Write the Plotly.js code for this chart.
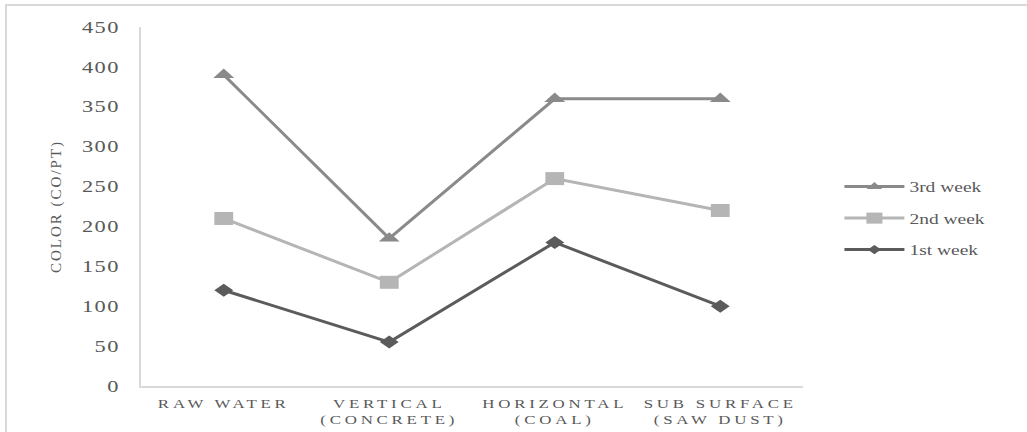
<!DOCTYPE html>
<html>
<head>
<meta charset="utf-8">
<script src="https://cdn.plot.ly/plotly-3.0.1.min.js"></script>
<style>
  html, body { margin: 0; padding: 0; background: #fff; }
  #wrap { position: relative; width: 1027px; height: 432px; }
  #chart { position: absolute; left: 0; top: 0; width: 1027px; height: 432px; }
  #frame {
    position: absolute; left: 5px; top: 4px; right: -4px; bottom: -4px;
    border-left: 2px solid #d9d9d9; border-top: 2px solid #d9d9d9;
    pointer-events: none;
  }
  /* wide, spaced label lettering */
  #chart g.xtick, #chart g.ytick { transform-box: fill-box; }
  #chart g.xtick { transform-origin: center; transform: scaleX(1.35); }
  #chart g.xtick text { letter-spacing: 2.8px; }
  #chart g.ytick { transform-origin: right center; transform: scaleX(1.4); }
  #chart g.ytick text { letter-spacing: 1px; }
  #chart text.legendtext { transform-box: fill-box; transform-origin: left center; transform: scaleX(1.3); }
  #chart .legend .scrollbox { clip-path: none; }
  #chart .g-ytitle text { letter-spacing: 2px; }
</style>
</head>
<body>
<div id="wrap">
  <div id="chart"></div>
  <div id="frame"></div>
</div>
<script>
// Filter types sampled
const categories = ["RAW WATER", "VERTICAL<br>(CONCRETE)", "HORIZONTAL<br>(COAL)", "SUB SURFACE<br>(SAW DUST)"];

// Colour readings (CO/PT) per week
const week1 = [120, 55, 180, 100];
const week2 = [210, 130, 260, 220];
const week3 = [390, 185, 360, 360];

const seriesNames = ["1st week", "2nd week", "3rd week"];
const yTicks = [0, 50, 100, 150, 200, 250, 300, 350, 400, 450];

const textColor = "#595959";
const serif = "Liberation Serif, Times New Roman, serif";

// horizontal widening of the markers, and the extra scaling used in the legend
const markerStretch = 1.45;
const legendScale = [0.7, 0.85, 0.75];

function series(name, values, color, symbol, size, rank) {
  return {
    type: "scatter",
    mode: "lines+markers",
    name: name,
    legendgroup: name,
    legendrank: rank,
    x: categories,
    y: values,
    line: { color: color, width: 3 },
    marker: { color: color, symbol: symbol, size: size },
    hoverinfo: "x+y+name"
  };
}

const traces = [
  series(seriesNames[0], week1, "#5b5b5b", "diamond", 10, 3),
  series(seriesNames[1], week2, "#b5b5b5", "square", 13, 2),
  series(seriesNames[2], week3, "#8a8a8a", "triangle-up", 12.5, 1)
];

const layout = {
  width: 1027,
  height: 432,
  margin: { l: 141, r: 224, t: 27, b: 46 },
  paper_bgcolor: "rgba(0,0,0,0)",
  plot_bgcolor: "rgba(0,0,0,0)",
  showlegend: true,
  legend: {
    x: 1.055, xanchor: "left",
    y: 0.467, yanchor: "middle",
    traceorder: "grouped",
    tracegroupgap: 9,
    itemwidth: 60,
    font: { family: serif, size: 15, color: textColor },
    bgcolor: "rgba(0,0,0,0)"
  },
  xaxis: {
    type: "category",
    range: [-0.5, 3.5],
    showline: true,
    linecolor: "#d9d9d9",
    linewidth: 2,
    showgrid: false,
    zeroline: false,
    ticks: "",
    ticklabelstandoff: 5,
    tickfont: { family: serif, size: 12.5, color: textColor },
    fixedrange: true
  },
  yaxis: {
    range: [0, 450],
    tickvals: yTicks,
    ticktext: yTicks.map(String),
    showline: true,
    linecolor: "#d9d9d9",
    linewidth: 2,
    showgrid: false,
    zeroline: false,
    ticks: "",
    ticklabelstandoff: 16,
    tickfont: { family: serif, size: 16, color: textColor },
    title: {
      text: "COLOR (CO/PT)",
      font: { family: serif, size: 15, color: textColor },
      standoff: 31
    },
    fixedrange: true
  }
};

function widenMarkers(gd) {
  gd.querySelectorAll(".scatterlayer g.trace").forEach(function (g) {
    g.querySelectorAll("path.point").forEach(function (p) {
      const t = p.getAttribute("transform") || "";
      p.setAttribute("transform", t + " scale(" + markerStretch + ",1)");
    });
  });
  gd.querySelectorAll(".legend g.traces").forEach(function (g) {
    const d = g.__data__;
    const idx = d && d[0] && d[0].trace ? d[0].trace.index : 0;
    const k = legendScale[idx] || 1;
    g.querySelectorAll(".legendpoints path.scatterpts").forEach(function (p) {
      const t = p.getAttribute("transform") || "";
      p.setAttribute("transform", t + " scale(" + (markerStretch * k) + "," + k + ")");
    });
  });
}

Plotly.newPlot("chart", traces, layout, { displayModeBar: false, staticPlot: true })
  .then(widenMarkers);
</script>
</body>
</html>
